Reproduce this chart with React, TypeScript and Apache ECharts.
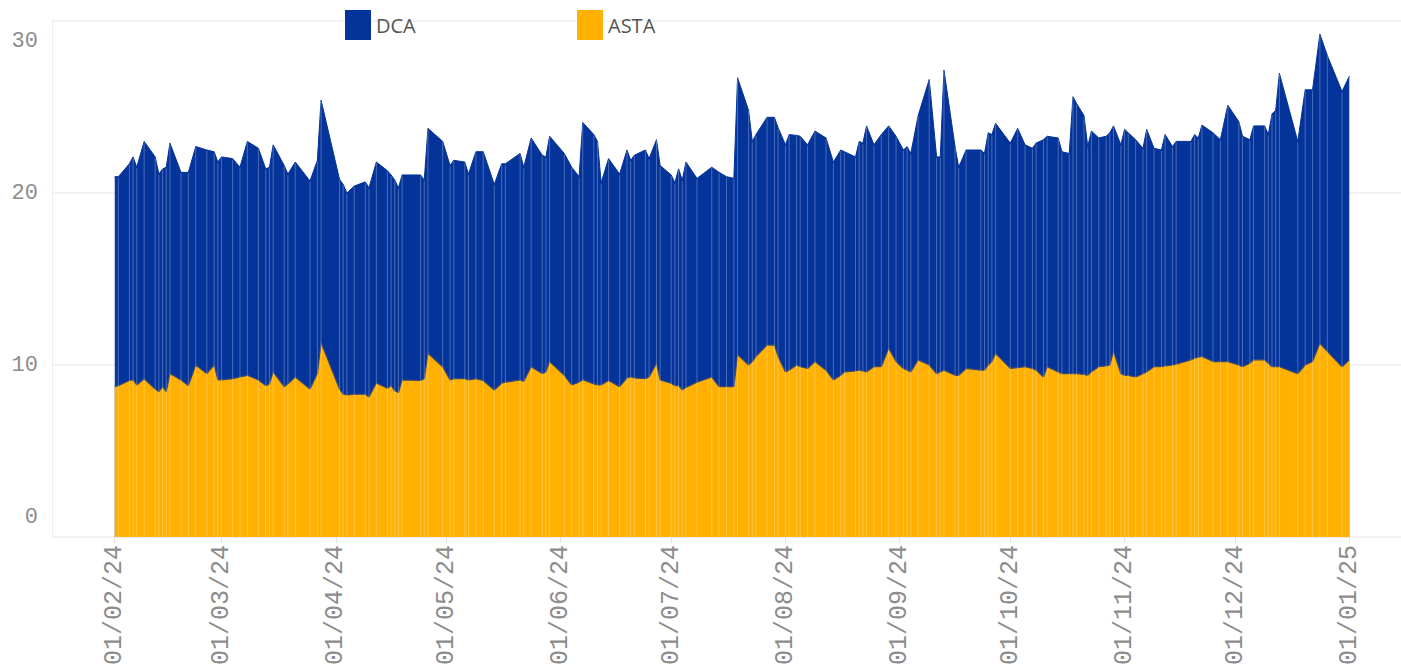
import React, { useEffect, useRef } from "react";
import * as echarts from "echarts";

const dates = [
  "2024-02-01", "2024-02-02", "2024-02-05", "2024-02-06", "2024-02-07", "2024-02-09", "2024-02-12", "2024-02-13",
  "2024-02-14", "2024-02-15", "2024-02-16", "2024-02-19", "2024-02-21", "2024-02-23", "2024-02-26", "2024-02-28",
  "2024-02-29", "2024-03-01", "2024-03-04", "2024-03-06", "2024-03-08", "2024-03-11", "2024-03-13", "2024-03-14",
  "2024-03-15", "2024-03-18", "2024-03-19", "2024-03-21", "2024-03-25", "2024-03-27", "2024-03-28", "2024-04-02",
  "2024-04-03", "2024-04-04", "2024-04-06", "2024-04-09", "2024-04-10", "2024-04-12", "2024-04-15", "2024-04-16",
  "2024-04-17", "2024-04-18", "2024-04-19", "2024-04-24", "2024-04-25", "2024-04-26", "2024-04-30", "2024-05-02",
  "2024-05-03", "2024-05-06", "2024-05-07", "2024-05-09", "2024-05-11", "2024-05-14", "2024-05-16", "2024-05-17",
  "2024-05-21", "2024-05-22", "2024-05-24", "2024-05-27", "2024-05-28", "2024-05-29", "2024-06-02", "2024-06-04",
  "2024-06-06", "2024-06-07", "2024-06-10", "2024-06-11", "2024-06-12", "2024-06-14", "2024-06-17", "2024-06-19",
  "2024-06-20", "2024-06-21", "2024-06-24", "2024-06-25", "2024-06-27", "2024-06-28", "2024-07-01", "2024-07-02",
  "2024-07-03", "2024-07-04", "2024-07-05", "2024-07-08", "2024-07-12", "2024-07-14", "2024-07-16", "2024-07-18",
  "2024-07-19", "2024-07-22", "2024-07-23", "2024-07-24", "2024-07-27", "2024-07-29", "2024-07-30", "2024-08-01",
  "2024-08-02", "2024-08-04", "2024-08-05", "2024-08-07", "2024-08-09", "2024-08-12", "2024-08-14", "2024-08-16",
  "2024-08-17", "2024-08-20", "2024-08-21", "2024-08-22", "2024-08-23", "2024-08-25", "2024-08-27", "2024-08-29",
  "2024-08-31", "2024-09-02", "2024-09-03", "2024-09-04", "2024-09-06", "2024-09-09", "2024-09-11", "2024-09-12",
  "2024-09-13", "2024-09-16", "2024-09-17", "2024-09-19", "2024-09-23", "2024-09-24", "2024-09-25", "2024-09-26",
  "2024-09-27", "2024-10-01", "2024-10-03", "2024-10-05", "2024-10-07", "2024-10-08", "2024-10-10", "2024-10-11",
  "2024-10-14", "2024-10-15", "2024-10-17", "2024-10-18", "2024-10-19", "2024-10-21", "2024-10-22", "2024-10-23",
  "2024-10-25", "2024-10-27", "2024-10-28", "2024-10-29", "2024-10-31", "2024-11-01", "2024-11-02", "2024-11-04",
  "2024-11-06", "2024-11-07", "2024-11-09", "2024-11-11", "2024-11-12", "2024-11-14", "2024-11-15", "2024-11-19",
  "2024-11-20", "2024-11-21", "2024-11-22", "2024-11-25", "2024-11-27", "2024-11-29", "2024-12-02", "2024-12-03",
  "2024-12-05", "2024-12-06", "2024-12-09", "2024-12-10", "2024-12-11", "2024-12-12", "2024-12-13", "2024-12-18",
  "2024-12-20", "2024-12-22", "2024-12-24", "2024-12-26", "2024-12-30", "2025-01-01",
];

// ASTA (bottom layer, yellow)
const astaValues = [
  8.74, 8.8, 9.1, 9.13, 8.84, 9.2, 8.6, 8.45,
  8.74, 8.45, 9.5, 9.13, 8.8, 10.0, 9.5, 10.0,
  9.13, 9.13, 9.2, 9.3, 9.4, 9.13, 8.8, 8.9,
  9.6, 8.74, 8.9, 9.3, 8.6, 9.5, 11.3, 8.6,
  8.3, 8.26, 8.3, 8.3, 8.14, 8.95, 8.65, 8.8,
  8.5, 8.4, 9.13, 9.1, 9.2, 10.68, 9.9, 9.13,
  9.2, 9.2, 9.13, 9.2, 9.1, 8.55, 8.94, 9.0,
  9.13, 9.05, 9.9, 9.5, 9.6, 10.2, 9.4, 8.84,
  9.0, 9.15, 8.9, 8.84, 8.84, 9.1, 8.74, 9.25,
  9.3, 9.25, 9.2, 9.3, 10.1, 9.13, 8.94, 8.8,
  8.8, 8.55, 8.7, 9.0, 9.3, 8.74, 8.74, 8.74,
  10.6, 10.0, 10.2, 10.5, 11.16, 11.16, 10.5, 9.6,
  9.7, 10.0, 9.9, 9.8, 10.2, 9.7, 9.13, 9.4,
  9.6, 9.65, 9.7, 9.65, 9.6, 9.9, 9.9, 10.97,
  10.2, 9.8, 9.7, 9.6, 10.3, 10.0, 9.5, 9.6,
  9.7, 9.4, 9.4, 9.8, 9.7, 9.7, 10.0, 10.2,
  10.68, 9.8, 9.85, 9.9, 9.8, 9.7, 9.3, 9.9,
  9.6, 9.5, 9.5, 9.5, 9.5, 9.45, 9.4, 9.6,
  9.9, 9.95, 10.0, 10.8, 9.5, 9.4, 9.4, 9.3,
  9.5, 9.6, 9.9, 9.9, 9.95, 10.0, 10.05, 10.3,
  10.4, 10.45, 10.5, 10.2, 10.2, 10.2, 10.0, 9.9,
  10.1, 10.3, 10.3, 10.1, 9.9, 9.9, 9.9, 9.5,
  10.0, 10.2, 11.26, 10.8, 9.9, 10.3,
];

// DCA (stacked on top of ASTA, blue)
const dcaValues = [
  12.21, 12.15, 12.6, 12.97, 12.66, 13.8, 13.5, 12.65,
  12.66, 13.05, 13.4, 12.07, 12.4, 12.7, 13.0, 12.4,
  12.67, 12.97, 12.8, 12.2, 13.6, 13.47, 12.6, 12.6,
  13.2, 12.86, 12.2, 12.5, 12.1, 12.4, 14.1, 12.2,
  12.2, 11.74, 12.1, 12.35, 12.16, 12.85, 12.65, 12.25,
  12.25, 11.9, 11.92, 11.95, 11.55, 13.08, 13.1, 12.47,
  12.7, 12.6, 11.97, 13.2, 13.3, 11.95, 12.76, 12.7,
  13.17, 12.45, 13.3, 12.7, 12.5, 13.1, 12.9, 12.66,
  11.95, 14.95, 14.5, 14.16, 11.76, 12.9, 12.36, 13.25,
  12.6, 12.95, 13.3, 12.7, 13.0, 12.47, 12.11, 11.8,
  12.6, 12.2, 13.1, 11.85, 12.2, 12.46, 12.21, 12.11,
  16.1, 14.8, 12.8, 12.9, 13.24, 13.24, 13.3, 13.2,
  13.7, 13.35, 13.4, 13.0, 13.4, 13.5, 12.67, 13.1,
  12.8, 12.45, 13.3, 13.25, 14.3, 12.9, 13.5, 12.93,
  13.1, 12.7, 13.0, 12.7, 14.2, 16.6, 12.6, 12.5,
  17.45, 13.3, 12.1, 12.7, 12.8, 12.6, 13.5, 13.2,
  13.37, 13.1, 13.91, 12.9, 12.8, 13.2, 13.8, 13.4,
  13.6, 12.9, 12.8, 16.1, 15.7, 15.05, 13.3, 14.0,
  13.3, 13.35, 13.5, 13.1, 13.3, 14.3, 14.1, 13.8,
  13.1, 14.1, 12.7, 12.6, 13.45, 12.7, 12.95, 12.7,
  13.0, 12.75, 13.45, 13.3, 12.9, 14.9, 14.15, 13.4,
  13.0, 13.6, 13.6, 13.3, 14.7, 14.9, 17.06, 13.5,
  16.0, 15.8, 17.98, 17.2, 16.0, 16.5,
];

const monthTicks = [
  "2024-02-01", "2024-03-01", "2024-04-01", "2024-05-01", "2024-06-01", "2024-07-01",
  "2024-08-01", "2024-09-01", "2024-10-01", "2024-11-01", "2024-12-01", "2025-01-01",
];

const axisStart = "2024-01-15";
const axisEnd = "2025-01-15";

const ts = (s: string) => {
  const [y, m, d] = s.split("-").map(Number);
  return new Date(y, m - 1, d).getTime();
};
const pad = (n: number) => (n < 10 ? "0" + n : "" + n);

const BLUE = "#04339a";
const YELLOW = "#ffb000";
const LABEL_FONT = "'Liberation Mono', 'DejaVu Sans Mono', monospace";

export default function App() {
  const ref = useRef<HTMLDivElement>(null);

  useEffect(() => {
    if (!ref.current) return;
    const chart = echarts.init(ref.current, null, { renderer: "svg" });
    const tickTs = monthTicks.map(ts);
    const xs = dates.map(ts);
    // cumulative top of the stack (ASTA + DCA)
    const totals = astaValues.map((a, i) => +(a + dcaValues[i]).toFixed(2));

    const legendBase = {
      top: 5,
      icon: "rect",
      itemWidth: 26,
      itemHeight: 30,
      selectedMode: false,
      textStyle: {
        color: "#555",
        fontSize: 20,
        fontFamily: "'Open Sans', 'Noto Sans', sans-serif",
        padding: [20, 0, 0, 0],
      },
    };

    chart.setOption({
      animation: false,
      backgroundColor: "#ffffff",
      legend: [
        { ...legendBase, left: 340, data: ["DCA"] },
        { ...legendBase, left: 572, data: ["ASTA"] },
      ],
      grid: {
        left: 52,
        right: 0,
        top: 21,
        bottom: 134,
        containLabel: false,
        outerBoundsMode: "none",
      },
      xAxis: {
        type: "value",
        min: ts(axisStart),
        max: ts(axisEnd),
        axisLine: { show: true, lineStyle: { color: "#eeeeee", width: 1 } },
        axisTick: {
          show: true,
          customValues: tickTs,
          length: 6,
          lineStyle: { color: "#e2e2e2" },
        },
        splitLine: { show: false },
        axisLabel: {
          customValues: tickTs,
          rotate: 90,
          margin: 8,
          color: "#8c8c8c",
          fontSize: 25,
          fontFamily: LABEL_FONT,
          formatter: (v: number) => {
            const d = new Date(v);
            return pad(d.getDate()) + "/" + pad(d.getMonth() + 1) + "/" + String(d.getFullYear()).slice(2);
          },
        },
      },
      yAxis: {
        type: "value",
        min: 0,
        max: 30,
        interval: 10,
        axisLine: { show: true, lineStyle: { color: "#eeeeee" } },
        axisTick: { show: false },
        splitLine: { show: true, lineStyle: { color: "#efefef", width: 1.5 } },
        axisLabel: {
          color: "#8c8c8c",
          fontSize: 22,
          fontFamily: LABEL_FONT,
          margin: 14,
          lineHeight: 40,
          verticalAlignMinLabel: "bottom",
          verticalAlignMaxLabel: "top",
        },
      },
      series: [
        {
          // drawn as the full stack height (ASTA + DCA); ASTA is painted over it
          name: "DCA",
          type: "line",
          symbol: "none",
          z: 2,
          data: xs.map((x, i) => [x, totals[i]]),
          itemStyle: { color: BLUE },
          lineStyle: { color: BLUE, width: 1 },
          areaStyle: { color: BLUE, opacity: 1 },
        },
        {
          name: "ASTA",
          type: "line",
          symbol: "none",
          z: 3,
          data: xs.map((x, i) => [x, astaValues[i]]),
          itemStyle: { color: YELLOW },
          lineStyle: { color: "#3d4a6e", width: 1.2 },
          areaStyle: { color: YELLOW, opacity: 1 },
        },
        {
          // faint vertical seams at every data point, as in the source rendering
          name: "seams",
          type: "custom",
          z: 4,
          silent: true,
          data: xs.map((x, i) => [x, totals[i]]),
          renderItem: (params: any, api: any) => {
            const top = api.coord([api.value(0), api.value(1)]);
            const bottom = api.coord([api.value(0), 0]);
            return {
              type: "line",
              shape: { x1: top[0], y1: top[1] + 1, x2: bottom[0], y2: bottom[1] },
              style: { stroke: "rgba(255,255,255,0.28)", lineWidth: 1 },
            };
          },
        },
      ],
    });

    return () => chart.dispose();
  }, []);

  return (
    <div
      ref={ref}
      style={{ position: "absolute", left: 0, top: 0, width: 1401, height: 671, background: "#fff" }}
    />
  );
}
